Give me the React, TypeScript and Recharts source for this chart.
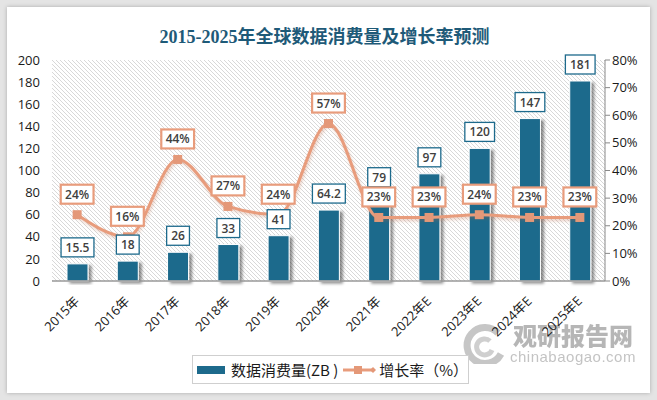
import React from 'react'
import {
  ComposedChart,
  Bar,
  Line,
  XAxis,
  YAxis,
  CartesianGrid,
  LabelList,
} from 'recharts'

const years = ['2015年', '2016年', '2017年', '2018年', '2019年', '2020年', '2021年', '2022年E', '2023年E', '2024年E', '2025年E']
const consumption = [15.5, 18, 26, 33, 41, 64.2, 79, 97, 120, 147, 181]
const growth = [24, 16, 44, 27, 24, 57, 23, 23, 24, 23, 23]
const leftTicks = [0, 20, 40, 60, 80, 100, 120, 140, 160, 180, 200]
const rightTicks = [0, 10, 20, 30, 40, 50, 60, 70, 80]

const BAR = '#1d6a8c'
const ORANGE = '#e89c7c'
const NUM_FONT = "'Open Sans', 'Noto Sans CJK SC', sans-serif"

const data = years.map((year, i) => ({ year, consumption: consumption[i], growth: growth[i] }))

function textWidth(s: string) {
  let w = 0
  for (const ch of s) {
    if (ch === '.') w += 3.2
    else if (ch === '%') w += 10
    else w += 6.9
  }
  return w
}

interface ShapeProps {
  x?: number
  y?: number
  width?: number
  height?: number
  fill?: string
}

function ShadowBar(props: unknown) {
  const { x = 0, y = 0, width = 0, height = 0, fill } = props as ShapeProps
  if (height <= 0) return <g />
  return (
    <rect
      x={x}
      y={y}
      width={width}
      height={height}
      fill={fill}
      stroke="#fff"
      strokeWidth={1}
      filter="url(#barShadow)"
    />
  )
}

function BoxLabel(props: any, border: string, bw: number, gap: number, suffix: string) {
  const { x, y, width, value } = props
  if (x == null || y == null || value == null) return null
  const cx = Number(x) + (width ? Number(width) / 2 : 0)
  const text = `${value}${suffix}`
  const w = textWidth(text) + 9
  const h = 19
  const top = Number(y) - gap - h
  return (
    <g>
      <rect x={cx - w / 2} y={top} width={w} height={h} fill="#fff" stroke={border} strokeWidth={bw} />
      <text
        x={cx}
        y={top + h / 2 + 4.5}
        textAnchor="middle"
        fontSize={12}
        fontWeight={600}
        fill="#404040"
        fontFamily={NUM_FONT}
      >
        {text}
      </text>
    </g>
  )
}

function XTick(props: any) {
  const { x, y, payload } = props
  const tx = x + 3
  const ty = y + 13
  return (
    <text
      x={tx}
      y={ty}
      transform={`rotate(-45, ${tx}, ${ty})`}
      textAnchor="end"
      fontSize={13}
      fill="#1a1a1a"
      fontFamily={NUM_FONT}
    >
      {payload.value}
    </text>
  )
}

export default function App() {
  return (
    <div
      style={{
        position: 'absolute',
        left: 0,
        top: 0,
        width: 657,
        height: 400,
        background: '#e4e4e4',
        overflow: 'hidden',
      }}
    >
      <div
        style={{
          position: 'absolute',
          left: 7,
          top: 7,
          width: 643,
          height: 386,
          background: '#fff',
          boxShadow: '0 0 4px rgba(0,0,0,0.25)',
        }}
      />
      <div
        style={{
          position: 'absolute',
          left: 0,
          top: 22,
          width: 649,
          textAlign: 'center',
          fontFamily: "'Liberation Serif', 'Noto Sans CJK SC', serif",
          fontWeight: 'bold',
          fontSize: 18,
          color: '#1e5a78',
          whiteSpace: 'nowrap',
        }}
      >
        2015-2025年全球数据消费量及增长率预测
      </div>

      {/* watermark */}
      <div style={{ position: 'absolute', left: 460, top: 324, opacity: 0.8 }}>
        <svg width={48} height={40} style={{ position: 'absolute', left: 0, top: 0 }}>
          <path d="M38 9 A18 18 0 1 0 41 30" fill="none" stroke="#b8b8b8" strokeWidth={7} />
          <path d="M30 17 A8 8 0 1 0 32 26" fill="none" stroke="#c4c4c4" strokeWidth={5} />
        </svg>
        <div
          style={{
            position: 'absolute',
            left: 53,
            top: -5,
            whiteSpace: 'nowrap',
            fontFamily: "'Noto Sans CJK SC', sans-serif",
            fontWeight: 900,
            fontSize: 24,
            lineHeight: '32px',
            color: '#a5a5a5',
          }}
        >
          观研报告网
        </div>
        <div
          style={{
            position: 'absolute',
            left: 50,
            top: 24,
            whiteSpace: 'nowrap',
            fontFamily: "'Liberation Sans', sans-serif",
            fontSize: 15,
            letterSpacing: 0.5,
            color: '#b5b5b5',
          }}
        >
          chinabaogao.com
        </div>
      </div>

      <ComposedChart
        width={657}
        height={400}
        data={data}
        margin={{ top: 60, right: 7, left: 12, bottom: 59 }}
        barSize={21}
        style={{ position: 'absolute', left: 0, top: 0 }}
      >
        <defs>
          <pattern id="hatch" patternUnits="userSpaceOnUse" width={4} height={4}>
            <path d="M0,0 L4,4 M-1,3 L1,5 M3,-1 L5,1" stroke="#d4d4d4" strokeWidth={0.9} />
          </pattern>
          <filter id="barShadow" x="-30%" y="-10%" width="170%" height="130%">
            <feDropShadow dx="3" dy="2" stdDeviation="1.6" floodColor="#000" floodOpacity="0.45" />
          </filter>
          <filter id="lineShadow" x="-10%" y="-10%" width="120%" height="130%">
            <feDropShadow dx="1" dy="2" stdDeviation="1.5" floodColor="#c0603a" floodOpacity="0.3" />
          </filter>
        </defs>
        <CartesianGrid fill="url(#hatch)" horizontal={false} vertical={false} yAxisId="left" />
        <XAxis
          dataKey="year"
          height={60}
          interval={0}
          tick={XTick}
          tickLine={false}
          axisLine={{ stroke: '#999', strokeWidth: 1.5 }}
        />
        <YAxis
          yAxisId="left"
          orientation="left"
          domain={[0, 200]}
          ticks={leftTicks}
          width={40}
          axisLine={false}
          tickLine={false}
          tickMargin={6}
          tick={{ fontSize: 13, fill: '#1a1a1a', fontFamily: NUM_FONT }}
        />
        <YAxis
          yAxisId="right"
          orientation="right"
          domain={[0, 80]}
          ticks={rightTicks}
          width={45}
          axisLine={{ stroke: '#888' }}
          tickLine={{ stroke: '#888' }}
          tickSize={5}
          tickMargin={2}
          tickFormatter={(v: number) => `${v}%`}
          tick={{ fontSize: 13, fill: '#1a1a1a', fontFamily: NUM_FONT }}
        />
        <Bar
          yAxisId="left"
          dataKey="consumption"
          fill={BAR}
          shape={ShadowBar}
          isAnimationActive={false}
        >
          <LabelList dataKey="consumption" content={(p: any) => BoxLabel(p, BAR, 1.3, 7, '')} />
        </Bar>
        <Line
          yAxisId="right"
          type="monotone"
          dataKey="growth"
          stroke={ORANGE}
          strokeWidth={3}
          filter="url(#lineShadow)"
          dot={(p: any) => (
            <rect key={p.index} x={p.cx - 4.5} y={p.cy - 4.5} width={9} height={9} fill="#e49878" />
          )}
          activeDot={false}
          isAnimationActive={false}
        >
          <LabelList dataKey="growth" content={(p: any) => BoxLabel(p, ORANGE, 2.2, 11, '%')} />
        </Line>
      </ComposedChart>

      {/* legend */}
      <div
        style={{
          position: 'absolute',
          left: 192,
          top: 355,
          width: 277,
          height: 29,
          border: '1px solid #cfcfcf',
          boxSizing: 'border-box',
          background: '#fff',
          display: 'flex',
          alignItems: 'center',
          fontFamily: "'Noto Sans CJK SC', sans-serif",
          fontSize: 15,
          color: '#1a1a1a',
          whiteSpace: 'nowrap',
        }}
      >
        <span style={{ display: 'inline-block', width: 29, height: 8, background: BAR, marginLeft: 4, marginRight: 6 }} />
        <span>数据消费量(ZB )</span>
        <svg width={36} height={12} style={{ marginLeft: 4, marginRight: 2 }}>
          <line x1={1} y1={6} x2={31} y2={6} stroke={ORANGE} strokeWidth={3} />
          <rect x={12} y={2} width={8} height={8} fill="#e49878" />
          <path d="M28 6 L31 3 L34 6 L31 9 Z" fill="#e49878" />
        </svg>
        <span>增长率（%）</span>
      </div>
    </div>
  )
}
